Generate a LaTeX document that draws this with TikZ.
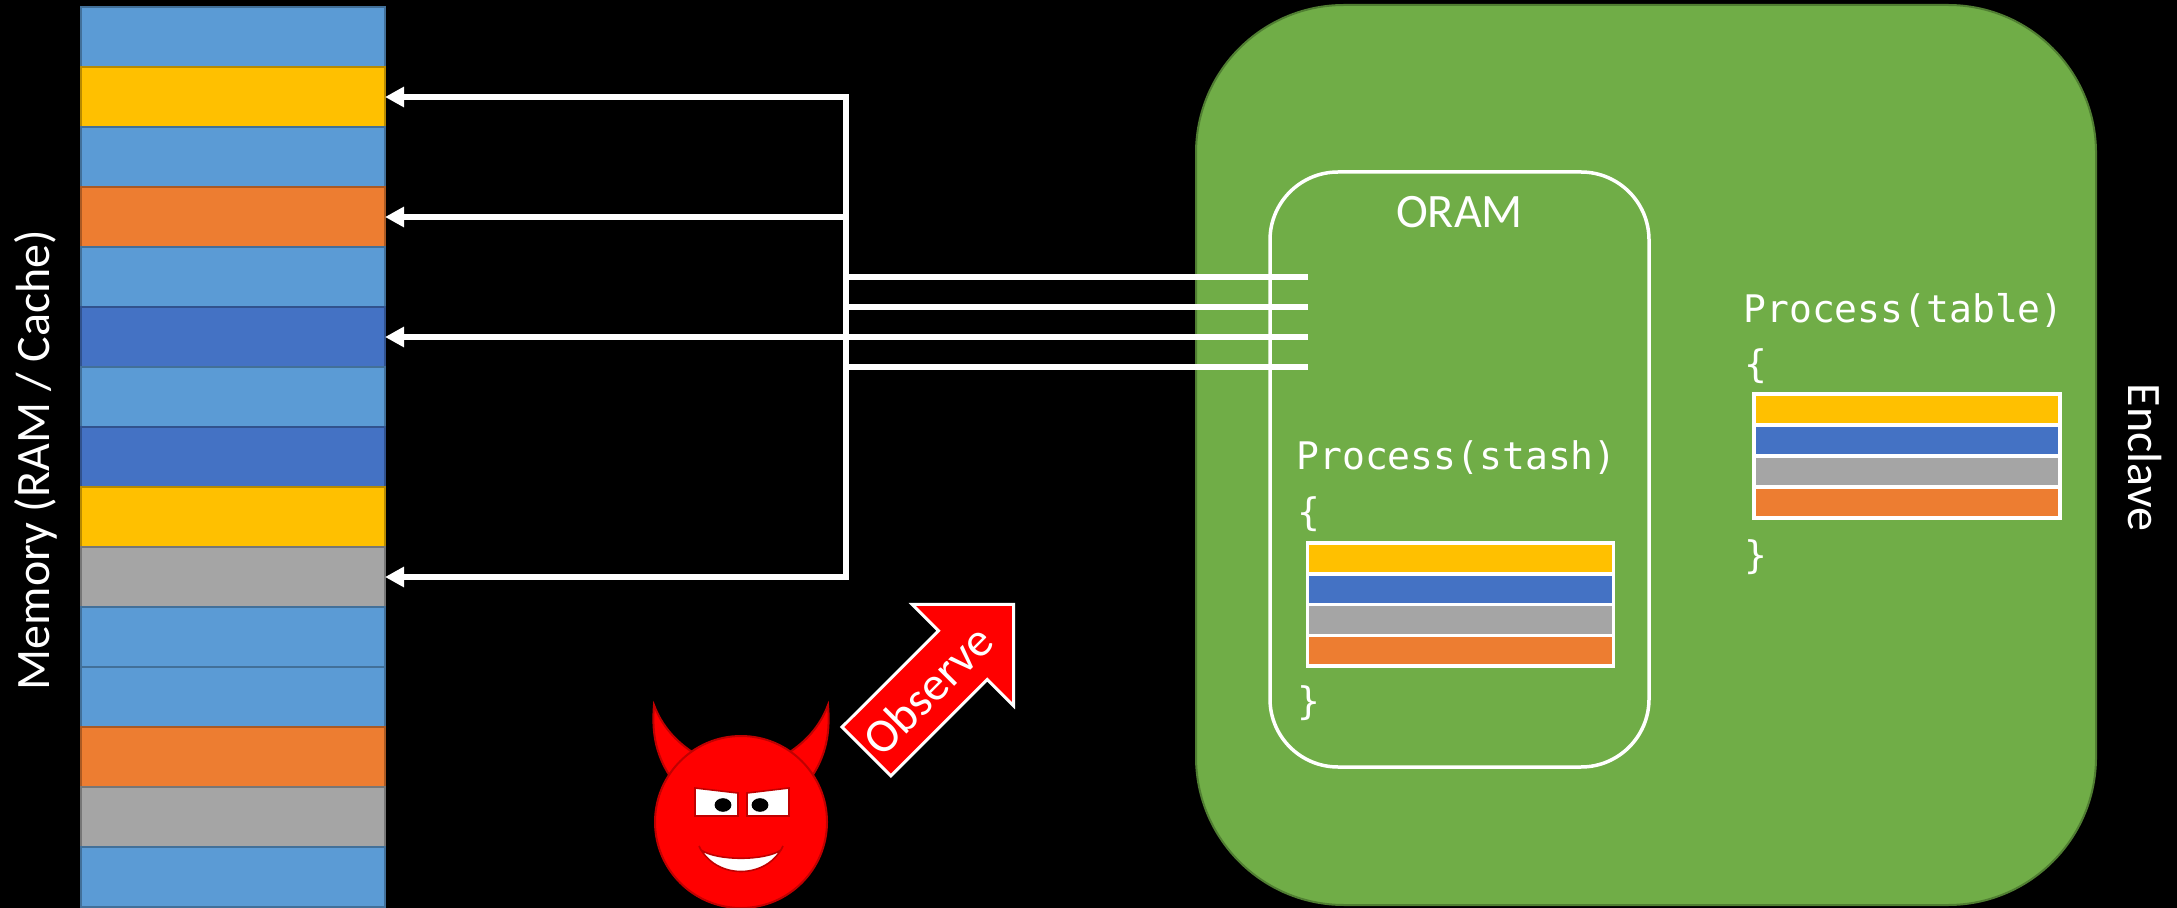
\documentclass[tikz,border=0pt]{standalone}
\usepackage{fontspec}
\setmainfont{Carlito}
\newfontfamily\codefont{DejaVu Sans Mono}
\usetikzlibrary{arrows.meta}

\definecolor{lb}{HTML}{5B9BD5}
\definecolor{yel}{HTML}{FFC000}
\definecolor{orn}{HTML}{ED7D31}
\definecolor{db}{HTML}{4472C4}
\definecolor{gry}{HTML}{A5A5A5}
\definecolor{grn}{HTML}{70AD47}
\definecolor{grnD}{HTML}{507E32}
\definecolor{devil}{HTML}{FF0000}
\definecolor{devilD}{HTML}{C00000}

\begin{document}
\begin{tikzpicture}[x=0.5pt,y=-0.5pt,
  memrow/.style={rectangle, minimum width=152pt, minimum height=30pt,
    inner sep=0pt, outer sep=0pt, line width=1pt},
  bus/.style={draw=white, line width=3pt, line join=miter},
  busarrow/.style={-{Triangle[length=9.5pt,width=9.7pt]}},
  tabrow/.style={rectangle, draw=white, line width=1.75pt,
    minimum width=153pt, minimum height=15.4pt, inner sep=0pt, outer sep=0pt},
  sanstxt/.style={text=white, font=\fontsize{24}{28}\selectfont, inner sep=0pt},
  codetxt/.style={text=white, font=\codefont\fontsize{19}{22}\selectfont,
    inner sep=0pt, anchor=base west},
  facepart/.style={fill=devil, draw=devilD, line width=1pt},
]
\useasboundingbox (0,0) rectangle (2177,908);
\fill[black] (0,0) rectangle (2177,908);

% memory column
\foreach \c [count=\i] in {lb,yel,lb,orn,lb,db,lb,db,yel,gry,lb,lb,orn,gry,lb}
  \node[memrow, fill=\c, draw=\c!72!black] (m\i) at (233,{37+60*(\i-1)}) {};
\node[sanstxt, rotate=90, anchor=base] (memlbl) at (49,460) {Memory (RAM / Cache)};

% enclave and ORAM
\node[draw=grnD, fill=grn, line width=1pt, rounded corners=74pt,
  minimum width=450pt, minimum height=450pt, inner sep=0pt] (enclave) at (1646,455) {};
\node[sanstxt, rotate=-90, anchor=base] (enclbl) at (2128,457.5) {Enclave};
\node[draw=white, line width=1.75pt, rounded corners=34pt,
  minimum width=189.5pt, minimum height=297.5pt, inner sep=0pt] (oram) at (1459.5,469.5) {};
\node[sanstxt, anchor=base] (oramlbl) at (1459.5,228) {ORAM};

% stash inside ORAM
\node[codetxt] (stashhead) at (1296,470) {Process(stash)};
\node[codetxt] (stashopen) at (1297,525) {\{};
\foreach \c [count=\i] in {yel,db,gry,orn}
  \node[tabrow, fill=\c] (s\i) at (1460.5,{558.4+30.8*(\i-1)}) {};
\node[codetxt] (stashclose) at (1297,714) {\}};

% table processed in the enclave
\node[codetxt] (tablehead) at (1743,323) {Process(table)};
\node[codetxt] (tableopen) at (1744,378) {\{};
\foreach \c [count=\i] in {yel,db,gry,orn}
  \node[tabrow, fill=\c] (t\i) at (1907,{409.5+31*(\i-1)}) {};
\node[codetxt] (tableclose) at (1744,568) {\}};

% access bus between ORAM and memory
\coordinate (b2) at (846,97);
\coordinate (b4) at (846,217);
\coordinate (b10) at (846,577);
\coordinate (o1) at (1308,277);
\coordinate (o2) at (1308,307);
\coordinate (o3) at (1308,337);
\coordinate (o4) at (1308,367);
\draw[bus, {Triangle[length=9.5pt,width=9.7pt]}-{Triangle[length=9.5pt,width=9.7pt]}]
  (m2.east) -- (b2) -- (b10) -- (m10.east);
\draw[bus, busarrow] (b4) -- (m4.east);
\draw[bus, busarrow] (o3) -- (m6.east);
\draw[bus] (o1) -- (846,277);
\draw[bus] (o2) -- (846,307);
\draw[bus] (o4) -- (846,367);

% devil
\path[facepart] (654,705) .. controls (651,740) and (659,762) .. (676,785)
  -- (702,758) .. controls (684,748) and (664,732) .. (654,705) -- cycle;
\path[facepart] (828,705) .. controls (831,740) and (823,762) .. (806,785)
  -- (780,758) .. controls (798,748) and (818,732) .. (828,705) -- cycle;
\path[facepart] (741,822) circle[radius=43pt];
\path[fill=white, draw=devilD, line width=0.8pt]
  (695,788) -- (738,793) -- (738,816) -- (695,816) -- cycle;
\path[fill=white, draw=devilD, line width=0.8pt]
  (747,793) -- (789,788) -- (789,816) -- (747,816) -- cycle;
\fill[black] (723,805) ellipse[x radius=4.2pt, y radius=3.4pt];
\fill[black] (760,805) ellipse[x radius=4.2pt, y radius=3.4pt];
\path[fill=white, draw=devilD, line width=0.8pt]
  (699,846) .. controls (715,880) and (767,880) .. (783,846)
  -- (781,850) .. controls (765,861) and (717,861) .. (701,850) -- cycle;

% observe arrow
\path[fill=devil, draw=white, line width=1.5pt, line join=miter]
  (842.0,727.1) -- (938.5,630.7) -- (912.2,604.4) -- (1013.5,604.4)
  -- (1013.5,705.7) -- (987.2,679.5) -- (890.8,775.9) -- cycle;
\node[sanstxt, rotate=45] (obs) at (927.9,690) {Observe};
\end{tikzpicture}
\end{document}
